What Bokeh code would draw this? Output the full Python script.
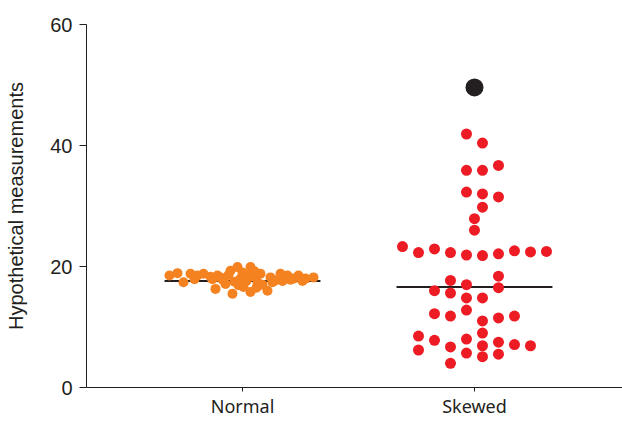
from bokeh.plotting import figure
from bokeh.models import Range1d, FixedTicker
from bokeh.embed import file_html
from bokeh.resources import INLINE

# ---- data ----
categories = ["Normal", "Skewed"]
medians = [17.6, 16.6]

normal_values = [18.5, 18.9, 17.4, 18.8, 18.5, 18.8, 18.3, 16.3, 18.2, 17.1, 19.3, 15.5,
                 19.9, 18.0, 16.6, 19.9, 15.8, 17.4, 18.8, 16.0, 18.2, 17.7, 18.8, 18.5,
                 18.0, 18.5, 18.0, 18.2, 17.8, 17.5, 19.0, 17.6, 18.4, 16.5, 18.6, 17.0,
                 17.9, 17.6, 16.9, 18.6, 19.2, 18.5, 17.4, 17.8, 17.9, 17.6]
normal_jitter = [-73, -65, -59, -52, -45, -39, -32, -27, -22, -17, -12, -10, -5, -2, 1, 8,
                 8, 15, 18, 25, 28, 33, 38, 45, 51, 56, 63, 71, -20, -8, 0, 4, 10, 14, -14,
                 20, -30, 40, -4, 6, 12, -25, 30, 48, -48, 60]

skewed_values = [41.9, 40.4, 35.9, 35.9, 36.7, 32.3, 32.0, 31.5, 29.8, 27.9, 26.0,
                 23.3, 22.3, 22.9, 22.3, 21.9, 21.8, 22.1, 22.6, 22.4, 22.5,
                 18.4, 17.7, 17.0, 16.0, 16.5, 15.6, 14.8, 14.8,
                 12.2, 11.8, 12.8, 11.0, 11.5, 11.8,
                 8.5, 7.8, 6.2, 6.7, 8.0, 9.0, 6.9, 7.5, 7.1, 6.9, 5.7, 5.1, 5.5, 4.0]
skewed_slots = [-0.5, 0.5, -0.5, 0.5, 1.5, -0.5, 0.5, 1.5, 0.5, 0, 0,
                -4.5, -3.5, -2.5, -1.5, -0.5, 0.5, 1.5, 2.5, 3.5, 4.5,
                1.5, -1.5, -0.5, -2.5, 1.5, -1.5, -0.5, 0.5,
                -2.5, -1.5, -0.5, 0.5, 1.5, 2.5,
                -3.5, -2.5, -3.5, -1.5, -0.5, 0.5, 0.5, 1.5, 2.5, 3.5, -0.5, 0.5, 1.5, -1.5]
outlier_value = [49.6]
outlier_slot = [0]

y_ticks = [0, 20, 40, 60]

# ---- figure ----
p = figure(width=622, height=422, output_backend="svg", toolbar_location=None,
           x_range=Range1d(0.3276, 2.638), y_range=Range1d(0, 60),
           min_border_left=86, min_border_right=0, min_border_top=24, min_border_bottom=35)
p.outline_line_color = None
p.grid.visible = False
p.background_fill_color = "white"
p.border_fill_color = "white"

PX = 1.0 / 232.0       # jitter px -> category units
SLOT = 16.0 / 232.0    # beeswarm slot width

half = 0.336
for i, m in enumerate(medians):
    c = i + 1
    p.segment(x0=[c - half], x1=[c + half], y0=[m], y1=[m], line_color="#231f20", line_width=2)

nx = [1 + j * PX for j in normal_jitter]
p.scatter(nx, normal_values, size=10, fill_color="#f58220", line_color=None)

sx = [2 + s * SLOT for s in skewed_slots]
p.scatter(sx, skewed_values, size=11, fill_color="#ed1c24", line_color=None)

ox = [2 + s * SLOT for s in outlier_slot]
p.scatter(ox, outlier_value, size=18, fill_color="#231f20", line_color=None)

# axes
for ax in (p.xaxis[0], p.yaxis[0]):
    ax.axis_line_color = "#231f20"
    ax.major_tick_line_color = "#231f20"
    ax.minor_tick_line_color = None
    ax.major_tick_in = 0
    ax.major_label_text_color = "#231f20"

p.yaxis.ticker = FixedTicker(ticks=y_ticks)
p.yaxis.major_tick_out = 7
p.yaxis.major_label_standoff = 7
p.yaxis.major_label_text_font = "Liberation Sans"
p.yaxis.major_label_text_font_size = "20px"
p.yaxis.axis_label = "Hypothetical measurements"
p.yaxis.axis_label_text_font = "Liberation Sans"
p.yaxis.axis_label_text_font_style = "normal"
p.yaxis.axis_label_text_font_size = "20px"
p.yaxis.axis_label_text_color = "#231f20"
p.yaxis.axis_label_standoff = 20

p.xaxis.ticker = FixedTicker(ticks=[1, 2])
p.xaxis.major_label_overrides = {i + 1: c for i, c in enumerate(categories)}
p.xaxis.major_tick_out = 4
p.xaxis.major_label_standoff = 2
p.xaxis.major_label_text_font = "Noto Sans"
p.xaxis.major_label_text_font_size = "18px"

open("out.html", "w").write(file_html(p, INLINE))
